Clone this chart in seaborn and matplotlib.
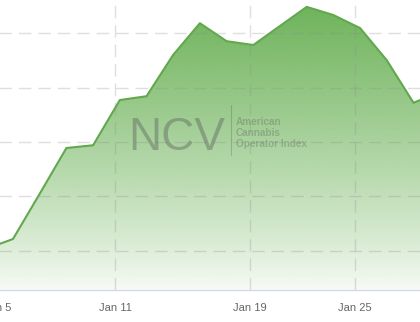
import numpy as np
import pandas as pd
import matplotlib
matplotlib.use("Agg")
import matplotlib.pyplot as plt
from matplotlib.lines import Line2D
import seaborn as sns

# ---- data (trading days, index values) ----
dates = ["Jan 5", "Jan 6", "Jan 7", "Jan 8", "Jan 9", "Jan 12", "Jan 13", "Jan 14",
         "Jan 15", "Jan 16", "Jan 20", "Jan 21", "Jan 22", "Jan 23", "Jan 26",
         "Jan 27", "Jan 28", "Jan 29"]
values = [4.04, 4.22, 5.05, 5.89, 5.94, 6.77, 6.84, 7.60, 8.18, 7.85, 7.78,
          8.13, 8.48, 8.33, 8.09, 7.50, 6.72, 6.92]
tick_labels = ["Jan 5", "Jan 11", "Jan 19", "Jan 25"]
tick_pos = [0.44, 4.82, 9.88, 13.81]   # ordinal positions of the axis labels
y_grid = [4, 5, 6, 7, 8, 9]

sns.set_style("white")
plt.rcParams["font.family"] = ["Liberation Sans", "DejaVu Sans"]

W, H = 420, 322
fig = plt.figure(figsize=(W / 100, H / 100), dpi=100)
# axes extends beyond the (cropped) figure on left and right
L, R, B, T = -40, 460, 290, 0
ax = fig.add_axes([L / W, (H - B) / H, (R - L) / W, (B - T) / H])

df = pd.DataFrame({"pos": np.arange(len(values)), "date": dates, "value": values})

x0 = (L + 13.7) / 26.7
x1 = (R + 13.7) / 26.7
y0, y1 = 3.284, 8.606

# gradient fill under the line
poly = ax.fill_between(df["pos"], df["value"], y0, color="none", lw=0)
n = 256
grad = np.zeros((n, 1, 4))
top_rgb = np.array([108, 178, 88]) / 255
grad[:, 0, :3] = top_rgb
grad[:, 0, 3] = 0.05 + 0.95 * np.linspace(0, 1, n) ** 0.85
im = ax.imshow(grad, extent=[x0, x1, y0, y1], origin="lower", aspect="auto",
               interpolation="bilinear", zorder=1)
im.set_clip_path(poly.get_paths()[0], transform=ax.transData)

sns.lineplot(data=df, x="pos", y="value", ax=ax, color="#62a84e", lw=1.5, zorder=3)

ax.set_xlim(x0, x1)
ax.set_ylim(y0, y1)

# grid lines (dashed), drawn above the fill with low alpha
for gy in y_grid:
    ax.axhline(gy, color=(0.55, 0.55, 0.55), alpha=0.28, lw=1.0,
               ls=(0, (9, 5)), zorder=2)
for gx in tick_pos:
    ax.axvline(gx, color=(0.55, 0.55, 0.55), alpha=0.28, lw=1.0,
               ls=(0, (9, 5)), zorder=2)

ax.set_xticks(tick_pos)
ax.set_xticklabels(tick_labels)
ax.set_yticks([])
ax.set_xlabel("")
ax.set_ylabel("")
ax.tick_params(axis="x", length=5.8, width=0.7, color="#d6d6d6", pad=3.6,
               labelsize=8, labelcolor="#666666")
for s in ["top", "right", "left"]:
    ax.spines[s].set_visible(False)
ax.spines["bottom"].set_color("#d5d9e6")
ax.spines["bottom"].set_linewidth(1.0)

# watermark
wm = (0.35, 0.35, 0.35)
fig.text(128 / W, 1 - 150 / H, "NCV", fontsize=33, color=wm, alpha=0.4,
         ha="left", va="baseline", zorder=5)
fig.add_artist(Line2D([231 / W, 231 / W], [1 - 105 / H, 1 - 155 / H],
                      color=wm, alpha=0.3, lw=0.8))
for txt, yy in [("American", 122), ("Cannabis", 133), ("Operator Index", 144)]:
    fig.text(236 / W, 1 - yy / H, txt, fontsize=7.2, fontweight="bold",
             color=wm, alpha=0.32, ha="left", va="center")

fig.savefig("out.png", dpi=100)
